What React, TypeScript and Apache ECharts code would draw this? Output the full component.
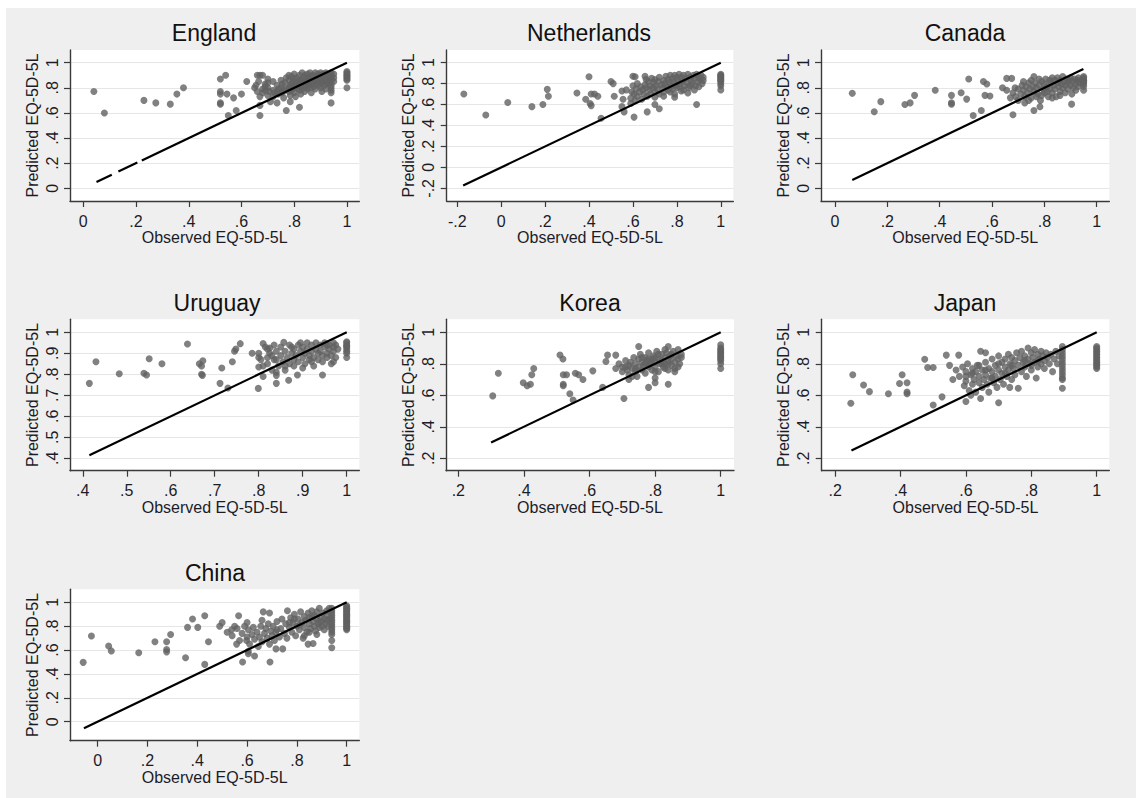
import React, { useEffect, useRef } from 'react';
import * as echarts from 'echarts';

// ---------------- DATA ----------------
const panelTitles = ['England', 'Netherlands', 'Canada', 'Uruguay', 'Korea', 'Japan', 'China'];
const xAxisTitle = 'Observed EQ-5D-5L';
const yAxisTitle = 'Predicted EQ-5D-5L';

const englandPoints = [
  [0.04, 0.77], [0.08, 0.60], [0.23, 0.70], [0.275, 0.68], [0.33, 0.67], [0.355, 0.75], [0.38, 0.80],
  [0.52, 0.87], [0.52, 0.77], [0.52, 0.75], [0.52, 0.68], [0.52, 0.67], [0.54, 0.90], [0.545, 0.75], [0.55, 0.58],
  [0.57, 0.72], [0.58, 0.62], [0.60, 0.75], [0.62, 0.85], [0.65, 0.80], [0.655, 0.82], [0.66, 0.90], [0.665, 0.85],
  [0.67, 0.90], [0.68, 0.90], [0.67, 0.73], [0.67, 0.58], [0.66, 0.77], [0.67, 0.66], [0.68, 0.79], [0.69, 0.83],
  [0.68, 0.76], [0.69, 0.81], [0.69, 0.78], [0.70, 0.84],
  [0.70, 0.87], [0.70, 0.80], [0.705, 0.77], [0.70, 0.74], [0.71, 0.69],
  [0.72, 0.85], [0.72, 0.78], [0.725, 0.76], [0.72, 0.73],
  [0.735, 0.82], [0.74, 0.79], [0.735, 0.77], [0.74, 0.75], [0.735, 0.68],
  [0.75, 0.86], [0.755, 0.83], [0.75, 0.80], [0.76, 0.78], [0.755, 0.76], [0.76, 0.72],
  [0.77, 0.88], [0.765, 0.84], [0.77, 0.79], [0.77, 0.62],
  [0.78, 0.90], [0.78, 0.86], [0.785, 0.82], [0.78, 0.80], [0.78, 0.77], [0.785, 0.74], [0.785, 0.69],
  [0.79, 0.89], [0.795, 0.85], [0.79, 0.83], [0.795, 0.81], [0.79, 0.78],
  [0.80, 0.91], [0.80, 0.87], [0.805, 0.84], [0.80, 0.80], [0.80, 0.76], [0.805, 0.73],
  [0.81, 0.88], [0.815, 0.85], [0.81, 0.82], [0.815, 0.79],
  [0.82, 0.90], [0.825, 0.86], [0.82, 0.83], [0.825, 0.81], [0.82, 0.78], [0.825, 0.75], [0.82, 0.645],
  [0.83, 0.92], [0.835, 0.88], [0.83, 0.85], [0.835, 0.82], [0.83, 0.79],
  [0.84, 0.90], [0.845, 0.87], [0.84, 0.84], [0.845, 0.81], [0.84, 0.77],
  [0.85, 0.91], [0.855, 0.88], [0.85, 0.85], [0.855, 0.82], [0.85, 0.79],
  [0.86, 0.92], [0.865, 0.89], [0.86, 0.86], [0.865, 0.83], [0.86, 0.80], [0.865, 0.76],
  [0.87, 0.90], [0.875, 0.87], [0.87, 0.84], [0.875, 0.81],
  [0.88, 0.92], [0.885, 0.89], [0.88, 0.86], [0.885, 0.83], [0.88, 0.79],
  [0.89, 0.91], [0.895, 0.88], [0.89, 0.85], [0.895, 0.82],
  [0.90, 0.92], [0.905, 0.90], [0.90, 0.87], [0.905, 0.84], [0.90, 0.80], [0.905, 0.77],
  [0.91, 0.91], [0.915, 0.88], [0.91, 0.85], [0.915, 0.82],
  [0.92, 0.92], [0.925, 0.89], [0.92, 0.86], [0.925, 0.83], [0.92, 0.79],
  [0.93, 0.90], [0.935, 0.87], [0.93, 0.84],
  [0.94, 0.92], [0.94, 0.90], [0.94, 0.88], [0.94, 0.86], [0.94, 0.84], [0.94, 0.82], [0.94, 0.80], [0.94, 0.78], [0.94, 0.76], [0.94, 0.68],
  [0.95, 0.91], [0.95, 0.88], [0.95, 0.85],
  [1, 0.93], [1, 0.92], [1, 0.91], [1, 0.90], [1, 0.89], [1, 0.88], [1, 0.87], [1, 0.86], [1, 0.80],
];

const netherlandsPoints = [
  [-0.17, 0.70], [-0.07, 0.50], [0.03, 0.62], [0.14, 0.58], [0.19, 0.60], [0.21, 0.745], [0.215, 0.68],
  [0.345, 0.71], [0.385, 0.65], [0.40, 0.865], [0.41, 0.70], [0.425, 0.70], [0.44, 0.68], [0.405, 0.61], [0.41, 0.59],
  [0.455, 0.47], [0.50, 0.82], [0.51, 0.80], [0.515, 0.68], [0.55, 0.58], [0.56, 0.53], [0.55, 0.73], [0.555, 0.65],
  [0.57, 0.74], [0.59, 0.61], [0.605, 0.48], [0.60, 0.87], [0.61, 0.865], [0.655, 0.87], [0.665, 0.53], [0.70, 0.60],
  [0.72, 0.56], [0.79, 0.67], [0.89, 0.60],
  [0.59, 0.66], [0.595, 0.72], [0.60, 0.78], [0.605, 0.70], [0.61, 0.64], [0.615, 0.75], [0.62, 0.68], [0.62, 0.80],
  [0.63, 0.72], [0.635, 0.77], [0.64, 0.65], [0.645, 0.74], [0.65, 0.70], [0.655, 0.79], [0.66, 0.76], [0.665, 0.68],
  [0.67, 0.82], [0.675, 0.74], [0.68, 0.78], [0.68, 0.70], [0.685, 0.85], [0.69, 0.76], [0.695, 0.81], [0.70, 0.72],
  [0.70, 0.84], [0.705, 0.78], [0.71, 0.75], [0.715, 0.82], [0.72, 0.70], [0.72, 0.86],
  [0.73, 0.79], [0.735, 0.76], [0.74, 0.83], [0.74, 0.72], [0.745, 0.80], [0.75, 0.87], [0.755, 0.77], [0.76, 0.84],
  [0.76, 0.74], [0.765, 0.81], [0.77, 0.88], [0.775, 0.78], [0.78, 0.85], [0.78, 0.75], [0.785, 0.82],
  [0.79, 0.88], [0.795, 0.79], [0.80, 0.86], [0.80, 0.76], [0.805, 0.83], [0.81, 0.89], [0.815, 0.80], [0.82, 0.86],
  [0.82, 0.73], [0.825, 0.83], [0.83, 0.88], [0.835, 0.78], [0.84, 0.85], [0.845, 0.81],
  [0.85, 0.89], [0.855, 0.76], [0.86, 0.86], [0.865, 0.83], [0.87, 0.80], [0.875, 0.88], [0.88, 0.85], [0.885, 0.78],
  [0.89, 0.89], [0.895, 0.82], [0.90, 0.86], [0.905, 0.84], [0.91, 0.88], [0.915, 0.80], [0.92, 0.86], [0.92, 0.83],
  [0.77, 0.72], [0.79, 0.70], [0.81, 0.77], [0.83, 0.74], [0.85, 0.71], [0.86, 0.78], [0.88, 0.74], [0.90, 0.77],
  [0.66, 0.84], [0.70, 0.67], [0.74, 0.68],
  [1, 0.89], [1, 0.88], [1, 0.87], [1, 0.86], [1, 0.85], [1, 0.84], [1, 0.83], [1, 0.82], [1, 0.80], [1, 0.78], [1, 0.74],
];

const canadaPoints = [
  [0.066, 0.756], [0.15, 0.61], [0.175, 0.69], [0.267, 0.667], [0.287, 0.68], [0.304, 0.74], [0.383, 0.78],
  [0.445, 0.74], [0.445, 0.68], [0.445, 0.67], [0.482, 0.76], [0.503, 0.71], [0.511, 0.87], [0.528, 0.58],
  [0.559, 0.62], [0.567, 0.85], [0.58, 0.83], [0.573, 0.74], [0.592, 0.735], [0.64, 0.80], [0.656, 0.875],
  [0.675, 0.875], [0.656, 0.78], [0.68, 0.585], [0.688, 0.80], [0.725, 0.68], [0.76, 0.62], [0.783, 0.65], [0.904, 0.67],
  [0.67, 0.72], [0.68, 0.76], [0.69, 0.73], [0.70, 0.79], [0.70, 0.70], [0.71, 0.75], [0.715, 0.82], [0.72, 0.78],
  [0.725, 0.73], [0.73, 0.81], [0.735, 0.76], [0.74, 0.84], [0.745, 0.79], [0.75, 0.72], [0.75, 0.86], [0.755, 0.81],
  [0.76, 0.77], [0.76, 0.89], [0.765, 0.84], [0.77, 0.80], [0.775, 0.75], [0.78, 0.87], [0.78, 0.82], [0.785, 0.70],
  [0.79, 0.85], [0.795, 0.79], [0.80, 0.83], [0.80, 0.76], [0.805, 0.87], [0.81, 0.81], [0.815, 0.73], [0.82, 0.86],
  [0.82, 0.79], [0.825, 0.84], [0.83, 0.88], [0.83, 0.76], [0.835, 0.82], [0.84, 0.86], [0.84, 0.79], [0.845, 0.73],
  [0.85, 0.84], [0.85, 0.88], [0.855, 0.81], [0.86, 0.77], [0.86, 0.86], [0.865, 0.83], [0.87, 0.89], [0.87, 0.80],
  [0.875, 0.85], [0.88, 0.82], [0.88, 0.76], [0.885, 0.87], [0.89, 0.84], [0.89, 0.79], [0.895, 0.86], [0.90, 0.82],
  [0.90, 0.88], [0.905, 0.75], [0.91, 0.85], [0.91, 0.80], [0.915, 0.87], [0.92, 0.83], [0.92, 0.78], [0.925, 0.86],
  [0.93, 0.81], [0.93, 0.88], [0.935, 0.84], [0.94, 0.86],
  [0.72, 0.85], [0.74, 0.70], [0.77, 0.73], [0.81, 0.77], [0.83, 0.72], [0.86, 0.74], [0.79, 0.74],
  [0.95, 0.89], [0.95, 0.88], [0.95, 0.87], [0.95, 0.86], [0.95, 0.85], [0.95, 0.84], [0.95, 0.83], [0.95, 0.81], [0.95, 0.78],
];

const uruguayPoints = [
  [0.415, 0.757], [0.43, 0.86], [0.483, 0.803], [0.539, 0.805], [0.545, 0.797], [0.551, 0.874], [0.58, 0.85],
  [0.638, 0.944], [0.665, 0.85], [0.67, 0.84], [0.67, 0.80], [0.672, 0.795], [0.673, 0.865], [0.712, 0.757],
  [0.716, 0.83], [0.73, 0.735], [0.74, 0.86], [0.745, 0.91], [0.748, 0.92], [0.758, 0.946], [0.785, 0.90],
  [0.799, 0.733], [0.80, 0.835], [0.80, 0.88], [0.81, 0.947], [0.825, 0.925], [0.84, 0.757], [0.84, 0.81],
  [0.84, 0.795], [0.857, 0.952], [0.868, 0.772], [0.888, 0.797], [0.945, 0.797],
  [0.80, 0.90], [0.805, 0.87], [0.81, 0.79], [0.815, 0.93], [0.82, 0.88], [0.82, 0.85], [0.825, 0.90], [0.83, 0.82],
  [0.835, 0.94], [0.835, 0.87], [0.84, 0.91], [0.845, 0.84], [0.85, 0.89], [0.85, 0.93], [0.855, 0.86], [0.86, 0.82],
  [0.86, 0.91], [0.865, 0.88], [0.87, 0.94], [0.87, 0.85], [0.875, 0.90], [0.88, 0.87], [0.88, 0.92], [0.885, 0.89],
  [0.89, 0.94], [0.89, 0.86], [0.895, 0.91], [0.90, 0.88], [0.90, 0.93], [0.905, 0.90], [0.905, 0.85], [0.91, 0.95],
  [0.91, 0.92], [0.915, 0.89], [0.915, 0.87], [0.92, 0.94], [0.92, 0.91], [0.925, 0.88], [0.925, 0.84], [0.93, 0.95],
  [0.93, 0.92], [0.935, 0.90], [0.935, 0.87], [0.94, 0.94], [0.94, 0.91], [0.945, 0.89], [0.945, 0.86], [0.95, 0.95],
  [0.95, 0.93], [0.955, 0.90], [0.955, 0.88], [0.96, 0.94], [0.96, 0.92], [0.965, 0.89], [0.965, 0.85], [0.97, 0.95],
  [0.97, 0.93], [0.97, 0.91], [0.975, 0.88], [0.975, 0.94], [0.97, 0.86], [0.98, 0.92], [0.90, 0.83], [0.88, 0.84],
  [0.86, 0.84], [0.83, 0.89], [0.82, 0.92], [0.81, 0.84], [0.84, 0.87], [0.875, 0.93], [0.895, 0.95], [0.955, 0.94], [0.92, 0.86],
  [1, 0.955], [1, 0.95], [1, 0.94], [1, 0.935], [1, 0.93], [1, 0.92], [1, 0.91], [1, 0.90], [1, 0.88],
];

const koreaPoints = [
  [0.305, 0.596], [0.322, 0.74], [0.398, 0.68], [0.41, 0.66], [0.42, 0.67], [0.424, 0.73], [0.43, 0.77],
  [0.51, 0.856], [0.519, 0.83], [0.52, 0.73], [0.53, 0.73], [0.52, 0.67], [0.52, 0.66], [0.54, 0.61], [0.55, 0.57],
  [0.557, 0.74], [0.567, 0.73], [0.58, 0.70], [0.61, 0.755], [0.64, 0.65], [0.65, 0.815], [0.655, 0.855],
  [0.68, 0.855], [0.705, 0.58], [0.75, 0.91], [0.78, 0.65], [0.80, 0.71], [0.80, 0.68], [0.84, 0.67], [0.84, 0.91],
  [0.68, 0.77], [0.69, 0.80], [0.70, 0.75], [0.70, 0.78], [0.71, 0.82], [0.715, 0.76], [0.72, 0.79], [0.72, 0.73],
  [0.725, 0.81], [0.73, 0.77], [0.735, 0.84], [0.74, 0.75], [0.74, 0.80], [0.745, 0.72], [0.75, 0.78], [0.75, 0.83],
  [0.755, 0.86], [0.76, 0.76], [0.76, 0.81], [0.765, 0.79], [0.77, 0.84], [0.77, 0.74], [0.775, 0.82], [0.78, 0.87],
  [0.78, 0.78], [0.785, 0.80], [0.79, 0.83], [0.79, 0.76], [0.795, 0.85], [0.80, 0.81], [0.80, 0.78], [0.805, 0.88],
  [0.81, 0.83], [0.81, 0.75], [0.815, 0.80], [0.82, 0.86], [0.82, 0.82], [0.825, 0.78], [0.83, 0.84], [0.83, 0.80],
  [0.835, 0.87], [0.84, 0.76], [0.84, 0.82], [0.845, 0.85], [0.85, 0.79], [0.85, 0.83], [0.855, 0.88], [0.86, 0.81],
  [0.86, 0.77], [0.865, 0.85], [0.87, 0.83], [0.87, 0.89], [0.875, 0.80], [0.88, 0.84], [0.86, 0.75], [0.79, 0.81],
  [0.81, 0.86], [0.77, 0.80], [0.83, 0.77], [0.80, 0.84], [0.82, 0.80], [0.78, 0.83], [0.84, 0.80], [0.76, 0.84],
  [0.74, 0.77], [0.73, 0.72], [0.85, 0.86], [0.87, 0.78], [0.88, 0.86], [0.80, 0.75], [0.71, 0.78], [0.72, 0.70], [0.83, 0.89],
  [1, 0.92], [1, 0.90], [1, 0.89], [1, 0.88], [1, 0.87], [1, 0.86], [1, 0.85], [1, 0.84], [1, 0.83], [1, 0.82], [1, 0.80], [1, 0.77],
];

const japanPoints = [
  [0.248, 0.549], [0.254, 0.73], [0.287, 0.665], [0.305, 0.623], [0.363, 0.61], [0.397, 0.675], [0.405, 0.73],
  [0.42, 0.68], [0.42, 0.62], [0.42, 0.61], [0.474, 0.829], [0.483, 0.776], [0.50, 0.776], [0.50, 0.538],
  [0.527, 0.59], [0.54, 0.855], [0.55, 0.79], [0.56, 0.70], [0.578, 0.855], [0.60, 0.56], [0.615, 0.60],
  [0.645, 0.88], [0.66, 0.87], [0.70, 0.553], [0.734, 0.65],
  [0.58, 0.72], [0.59, 0.78], [0.595, 0.66], [0.60, 0.75], [0.60, 0.69], [0.605, 0.80], [0.61, 0.63], [0.615, 0.73],
  [0.62, 0.77], [0.62, 0.67], [0.625, 0.70], [0.63, 0.62], [0.63, 0.75], [0.635, 0.79], [0.64, 0.68], [0.64, 0.72],
  [0.645, 0.58], [0.65, 0.76], [0.65, 0.65], [0.655, 0.70], [0.66, 0.81], [0.66, 0.73], [0.665, 0.67], [0.67, 0.77],
  [0.67, 0.62], [0.675, 0.71], [0.68, 0.83], [0.68, 0.75], [0.685, 0.68], [0.69, 0.79], [0.69, 0.72], [0.695, 0.65],
  [0.70, 0.85], [0.70, 0.76], [0.705, 0.70], [0.71, 0.81], [0.71, 0.74], [0.715, 0.67], [0.72, 0.78], [0.72, 0.83],
  [0.725, 0.72], [0.73, 0.86], [0.73, 0.76], [0.735, 0.80], [0.74, 0.70], [0.74, 0.84], [0.745, 0.77], [0.75, 0.82],
  [0.75, 0.73], [0.755, 0.87], [0.76, 0.79], [0.76, 0.645], [0.765, 0.84], [0.77, 0.75], [0.77, 0.88], [0.775, 0.81],
  [0.78, 0.78], [0.78, 0.85], [0.785, 0.72], [0.79, 0.83], [0.79, 0.90], [0.795, 0.80], [0.80, 0.87], [0.80, 0.76],
  [0.805, 0.84], [0.81, 0.81], [0.81, 0.89], [0.815, 0.71], [0.82, 0.86], [0.82, 0.78], [0.825, 0.83], [0.83, 0.88],
  [0.83, 0.80], [0.835, 0.85], [0.84, 0.77], [0.84, 0.82], [0.845, 0.87], [0.85, 0.84], [0.855, 0.80], [0.86, 0.86],
  [0.865, 0.75], [0.87, 0.83], [0.875, 0.88], [0.88, 0.80], [0.885, 0.85], [0.70, 0.80], [0.66, 0.76], [0.68, 0.71],
  [0.72, 0.74], [0.74, 0.79], [0.78, 0.82], [0.80, 0.79], [0.82, 0.82], [0.62, 0.74], [0.64, 0.79], [0.57, 0.76], [0.60, 0.72],
  [0.895, 0.91], [0.895, 0.89], [0.895, 0.87], [0.895, 0.85], [0.895, 0.83], [0.895, 0.81], [0.895, 0.79], [0.895, 0.77],
  [0.895, 0.75], [0.895, 0.73], [0.895, 0.71], [0.895, 0.70], [0.895, 0.645],
  [1, 0.91], [1, 0.90], [1, 0.89], [1, 0.88], [1, 0.87], [1, 0.86], [1, 0.85], [1, 0.84], [1, 0.83], [1, 0.82],
  [1, 0.81], [1, 0.80], [1, 0.79], [1, 0.78], [1, 0.77],
];

const chinaPoints = [
  [-0.058, 0.497], [-0.025, 0.718], [0.044, 0.634], [0.055, 0.593], [0.165, 0.578], [0.23, 0.67], [0.277, 0.67],
  [0.277, 0.605], [0.277, 0.585], [0.293, 0.73], [0.353, 0.535], [0.361, 0.79], [0.381, 0.86], [0.402, 0.79],
  [0.43, 0.887], [0.43, 0.48], [0.445, 0.67], [0.49, 0.80], [0.50, 0.83], [0.538, 0.77], [0.55, 0.80], [0.566, 0.887],
  [0.558, 0.65], [0.582, 0.50], [0.598, 0.68], [0.605, 0.59], [0.605, 0.57], [0.63, 0.55], [0.665, 0.92], [0.69, 0.91],
  [0.692, 0.50], [0.716, 0.61], [0.743, 0.61], [0.762, 0.93], [0.865, 0.655],
  [0.52, 0.75], [0.54, 0.72], [0.56, 0.78], [0.57, 0.68], [0.58, 0.74], [0.59, 0.80], [0.60, 0.71], [0.605, 0.77],
  [0.61, 0.65], [0.62, 0.73], [0.625, 0.79], [0.63, 0.69], [0.64, 0.75], [0.645, 0.63], [0.65, 0.71], [0.655, 0.80],
  [0.66, 0.67], [0.67, 0.74], [0.675, 0.78], [0.68, 0.70], [0.685, 0.82], [0.69, 0.65], [0.695, 0.76], [0.70, 0.72],
  [0.705, 0.80], [0.71, 0.68], [0.715, 0.75], [0.72, 0.84], [0.73, 0.71], [0.735, 0.78], [0.74, 0.86], [0.75, 0.74],
  [0.755, 0.82], [0.76, 0.70], [0.77, 0.79], [0.775, 0.87], [0.78, 0.75], [0.785, 0.83], [0.79, 0.90], [0.795, 0.72],
  [0.80, 0.80], [0.805, 0.86], [0.81, 0.77], [0.815, 0.92], [0.82, 0.83], [0.825, 0.70], [0.83, 0.88], [0.83, 0.79],
  [0.835, 0.85], [0.84, 0.75], [0.845, 0.91], [0.85, 0.82], [0.85, 0.87], [0.855, 0.78], [0.86, 0.93], [0.865, 0.84],
  [0.87, 0.80], [0.87, 0.89], [0.875, 0.76], [0.88, 0.86], [0.88, 0.92], [0.885, 0.82], [0.89, 0.95], [0.89, 0.79],
  [0.895, 0.88], [0.90, 0.84], [0.905, 0.91], [0.91, 0.77], [0.91, 0.86], [0.915, 0.82], [0.92, 0.93], [0.92, 0.89],
  [0.925, 0.80], [0.93, 0.86], [0.93, 0.95], [0.60, 0.83], [0.66, 0.85], [0.72, 0.77], [0.77, 0.83], [0.81, 0.81],
  [0.85, 0.75], [0.88, 0.73], [0.90, 0.80], [0.83, 0.72], [0.79, 0.86], [0.86, 0.88], [0.89, 0.84], [0.92, 0.85], [0.845, 0.65],
  [0.94, 0.95], [0.94, 0.93], [0.94, 0.91], [0.94, 0.89], [0.94, 0.87], [0.94, 0.85], [0.94, 0.83], [0.94, 0.81],
  [0.94, 0.79], [0.94, 0.77], [0.94, 0.75], [0.94, 0.73], [0.94, 0.68], [0.94, 0.62],
  [1, 0.97], [1, 0.96], [1, 0.95], [1, 0.94], [1, 0.93], [1, 0.92], [1, 0.91], [1, 0.90], [1, 0.89], [1, 0.88],
  [1, 0.87], [1, 0.86], [1, 0.85], [1, 0.84], [1, 0.83], [1, 0.82], [1, 0.81], [1, 0.80], [1, 0.79], [1, 0.78], [1, 0.77],
];

// 45-degree reference line (y = x) segments per panel: [from, to]
const englandLine = [[0.05, 0.108], [0.133, 0.205], [0.222, 1.0]];
const netherlandsLine = [[-0.173, 1.0]];
const canadaLine = [[0.066, 0.949]];
const uruguayLine = [[0.415, 1.0]];
const koreaLine = [[0.30, 1.0]];
const japanLine = [[0.25, 1.0]];
const chinaLine = [[-0.055, 1.0]];

// tick values
const ticks0to1 = [0, 0.2, 0.4, 0.6, 0.8, 1];
const ticksNeg = [-0.2, 0, 0.2, 0.4, 0.6, 0.8, 1];
const ticksUruguay = [0.4, 0.5, 0.6, 0.7, 0.8, 0.9, 1];
const ticks02to1 = [0.2, 0.4, 0.6, 0.8, 1];

const allPoints = [englandPoints, netherlandsPoints, canadaPoints, uruguayPoints, koreaPoints, japanPoints, chinaPoints];
const allLines = [englandLine, netherlandsLine, canadaLine, uruguayLine, koreaLine, japanLine, chinaLine];
const xTicks = [ticks0to1, ticksNeg, ticks0to1, ticksUruguay, ticks02to1, ticks02to1, ticks0to1];
const yTicks = [ticks0to1, ticksNeg, ticks0to1, ticksUruguay, ticks02to1, ticks02to1, ticks0to1];

// ---------------- LAYOUT (pixels, axis extents) ----------------
const layout = [
  { left: 70, top: 50, width: 289.3, height: 151, xr: [-0.0505, 1.047], yr: [-0.101, 1.101], tx: 214, ty: 33 },
  { left: 446.7, top: 50, width: 286.6, height: 151, xr: [-0.248, 1.057], yr: [-0.321, 1.121], tx: 589, ty: 33 },
  { left: 821, top: 50, width: 288.3, height: 151, xr: [-0.0535, 1.048], yr: [-0.101, 1.101], tx: 965, ty: 33 },
  { left: 70, top: 319.3, width: 289.3, height: 151.4, xr: [0.371, 1.0286], yr: [0.341, 1.062], tx: 217, ty: 302.5 },
  { left: 446, top: 319.3, width: 288, height: 151.4, xr: [0.1625, 1.0405], yr: [0.121, 1.0825], tx: 590, ty: 302.5 },
  { left: 821.7, top: 319.3, width: 287.6, height: 151.4, xr: [0.159, 1.0385], yr: [0.121, 1.0825], tx: 965, ty: 302.5 },
  { left: 70, top: 589.3, width: 289.3, height: 151.4, xr: [-0.111, 1.0506], yr: [-0.159, 1.109], tx: 215, ty: 572.5 },
];

const FONT = '"Liberation Sans", Arial, Helvetica, sans-serif';
const TEXT = '#1c1c28';

const fmt = (v: number) => {
  const r = Math.round(v * 10) / 10;
  if (r === 0) return '0';
  if (r === 1) return '1';
  return r.toFixed(1).replace(/^(-?)0\./, '$1.');
};

export default function App() {
  const ref = useRef<HTMLDivElement>(null);

  useEffect(() => {
    if (!ref.current) return;
    const chart = echarts.init(ref.current, null, { renderer: 'svg' });

    const axisLine = { show: true, onZero: false, lineStyle: { color: '#3a3a3a', width: 1.4 } };
    const grid = layout.map((l) => ({
      left: l.left, top: l.top, width: l.width, height: l.height,
      show: true, backgroundColor: '#ffffff', borderWidth: 0, containLabel: false,
    }));
    const xAxis = layout.map((l, i) => ({
      type: 'value', gridIndex: i, min: l.xr[0], max: l.xr[1],
      axisLine,
      axisTick: { show: true, length: 6, customValues: xTicks[i], lineStyle: { color: '#3a3a3a', width: 1.2 } },
      axisLabel: { customValues: xTicks[i], formatter: fmt, fontSize: 16, fontFamily: FONT, color: TEXT, margin: 12 },
      splitLine: { show: false },
      name: xAxisTitle, nameLocation: 'middle', nameGap: 28,
      nameTextStyle: { fontSize: 16, fontFamily: FONT, color: TEXT },
    }));
    const yAxis = layout.map((l, i) => ({
      type: 'value', gridIndex: i, min: l.yr[0], max: l.yr[1],
      axisLine,
      axisTick: { show: true, length: 6, customValues: yTicks[i], lineStyle: { color: '#3a3a3a', width: 1.2 } },
      axisLabel: {
        customValues: yTicks[i], formatter: fmt, fontSize: 16, fontFamily: FONT, color: TEXT,
        rotate: 90, align: 'center', verticalAlign: 'bottom', margin: 10,
      },
      splitLine: { show: true, lineStyle: { color: '#e6e6e6', width: 1.2 } },
      name: yAxisTitle, nameLocation: 'middle', nameGap: 30,
      nameTextStyle: { fontSize: 16, fontFamily: FONT, color: TEXT },
    }));

    const series: any[] = [];
    allPoints.forEach((pts, i) => {
      series.push({
        type: 'scatter', xAxisIndex: i, yAxisIndex: i, data: pts,
        symbol: 'circle', symbolSize: 7, itemStyle: { color: '#626262' }, silent: true, z: 2,
      });
    });
    allLines.forEach((segs, i) => {
      segs.forEach((s) => {
        series.push({
          type: 'line', xAxisIndex: i, yAxisIndex: i, data: [[s[0], s[0]], [s[1], s[1]]],
          symbol: 'none', showSymbol: false, lineStyle: { color: '#000000', width: 2.2 }, silent: true, z: 3,
        });
      });
    });

    const graphic = layout.map((l, i) => ({
      type: 'text', x: l.tx, y: l.ty, silent: true,
      style: { text: panelTitles[i], fontSize: 23, fontFamily: FONT, fill: '#111111', align: 'center', verticalAlign: 'middle' },
    }));

    chart.setOption({
      animation: false,
      grid, xAxis, yAxis, series, graphic,
    });
    return () => chart.dispose();
  }, []);

  return (
    <div style={{ position: 'absolute', left: 0, top: 0, width: 1136, height: 798, background: '#ffffff' }}>
      <div style={{ position: 'absolute', left: 6, top: 8, width: 1130, height: 790, background: '#efefef' }} />
      <div ref={ref} style={{ position: 'absolute', left: 0, top: 0, width: 1136, height: 798 }} />
    </div>
  );
}
